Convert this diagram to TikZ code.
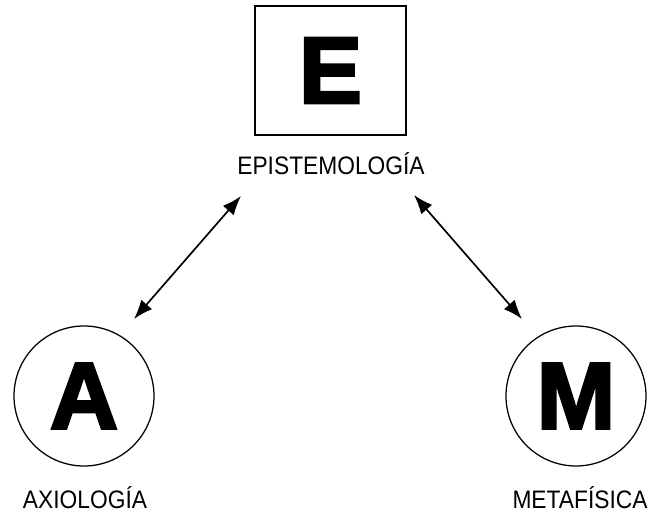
\documentclass[tikz,border=0pt]{standalone}
\usepackage{fontspec}
\setmainfont{Liberation Sans}[FakeStretch=0.9]
\newfontfamily\bigletter{Liberation Sans}[BoldFeatures={FakeBold=3}]
\usetikzlibrary{arrows.meta}

\tikzset{
  letter/.style={font=\bigletter\bfseries\fontsize{67}{67}\selectfont, inner sep=0pt},
  caption/.style={font=\fontsize{18}{18}\selectfont, anchor=base, inner sep=0pt},
  ring/.style={draw, circle, line width=0.9pt, minimum size=3.5cm},
  dual/.style={{Latex[length=4.8mm,width=3.6mm]}-{Latex[length=4.8mm,width=3.6mm]}, line width=1.2pt}
}

\begin{document}
\begin{tikzpicture}
      \useasboundingbox (0, 0) rectangle (16.2, 12.875);
      \node[draw, line width=1.1pt, minimum width=3.775cm, minimum height=3.225cm, letter] (E) at (8.2625, 11.1125) {E};
      \node[ring, letter] (A) at (2.1, 2.975) {A};
      \node[ring, letter] (M) at (14.4, 2.975) {M};
      \node[caption] (epi) at (8.275, 8.5) {EPISTEMOLOGÍA};
      \node[caption] (axi) at (2.125, 0.175) {AXIOLOGÍA};
      \node[caption] (met) at (14.5, 0.175) {METAFÍSICA};
      \coordinate (a1) at (3.35, 4.9);
      \coordinate (e1) at (6.025, 7.975);
      \coordinate (e2) at (10.35, 8.0);
      \coordinate (m1) at (13.05, 4.9);
      \draw[dual] (a1) -- (e1);
      \draw[dual] (e2) -- (m1);
    \end{tikzpicture}
\end{document}
